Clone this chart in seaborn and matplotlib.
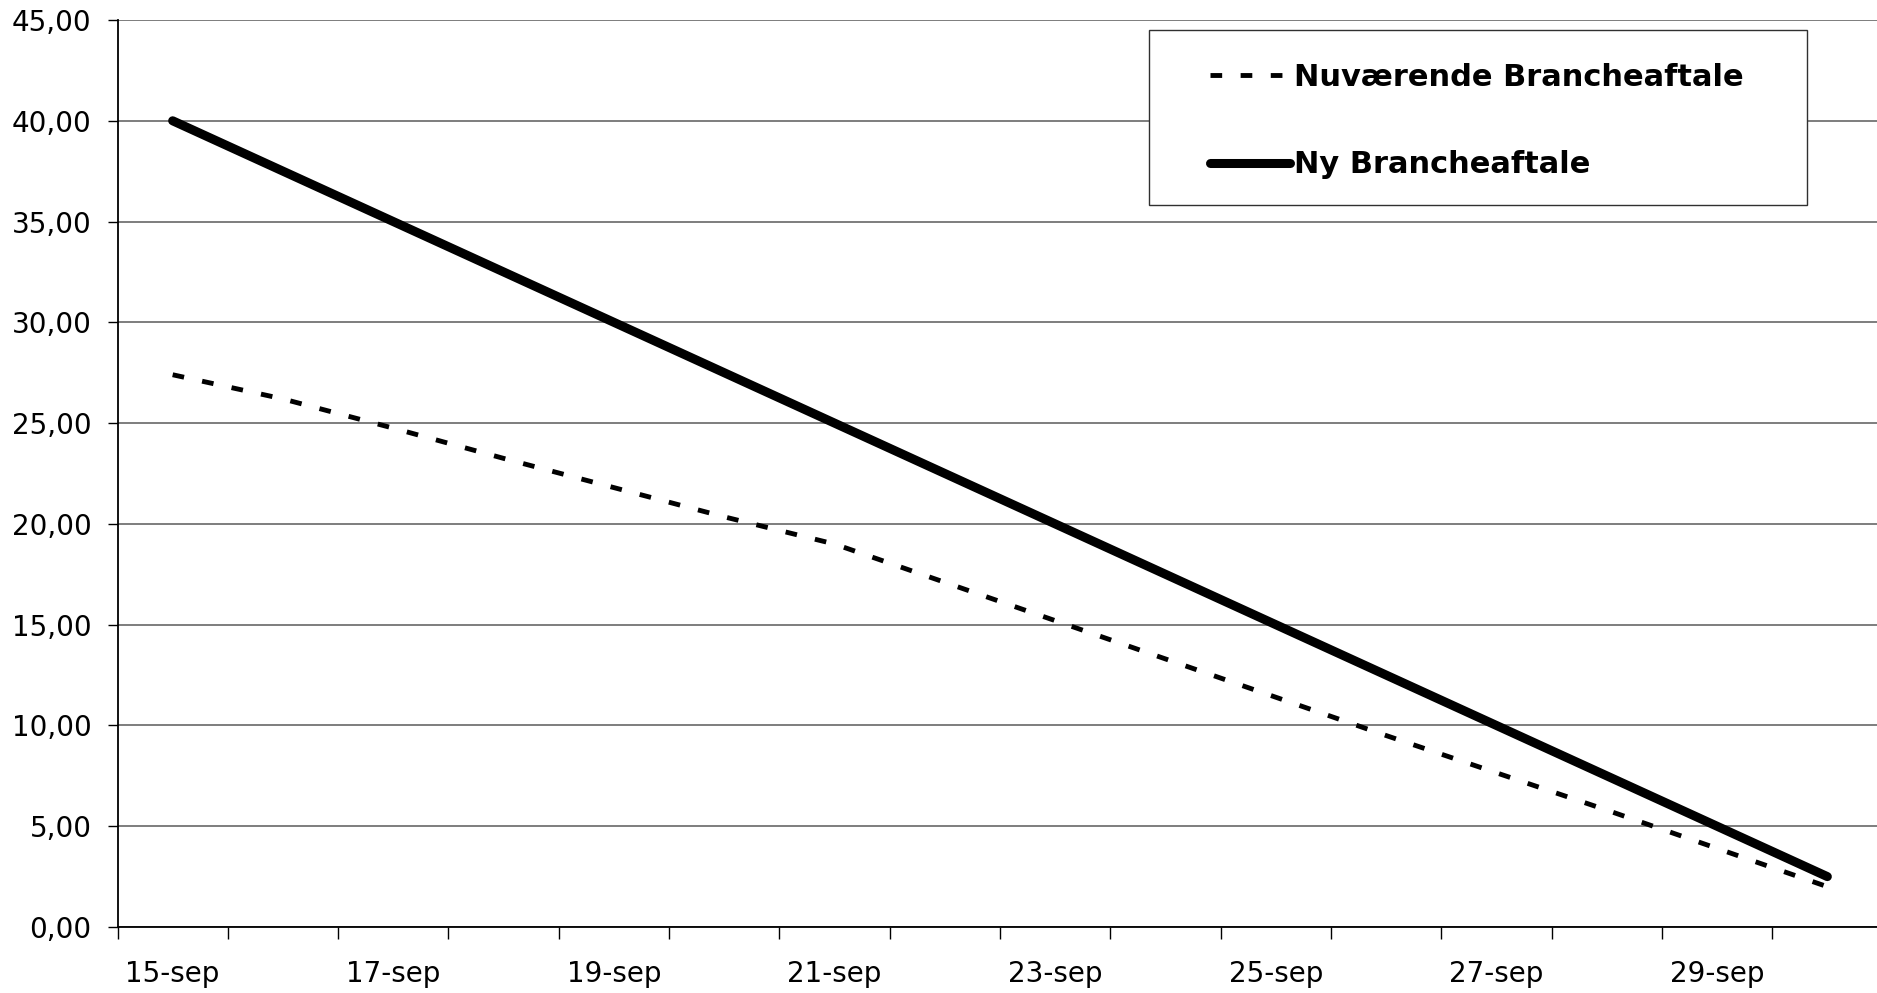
import numpy as np
import pandas as pd
import matplotlib
matplotlib.use("Agg")
import matplotlib.pyplot as plt
import matplotlib.ticker as mticker
from matplotlib.patches import Rectangle
import seaborn as sns

# data
datoer = ['15-sep', '16-sep', '17-sep', '18-sep', '19-sep', '20-sep', '21-sep', '22-sep',
          '23-sep', '24-sep', '25-sep', '26-sep', '27-sep', '28-sep', '29-sep', '30-sep']
nuvaerende = [27.4, 26.2, 24.75, 23.25, 21.8, 20.35, 19.0, 17.1,
              15.2, 13.3, 11.4, 9.5, 7.65, 5.8, 3.9, 2.0]
ny = [40.0, 37.5, 35.0, 32.5, 30.0, 27.5, 25.0, 22.5,
      20.0, 17.5, 15.0, 12.5, 10.0, 7.5, 5.0, 2.5]
serie_navne = ['Nuværende Brancheaftale', 'Ny Brancheaftale']

df = pd.DataFrame({'pos': np.arange(len(datoer)), 'dato': datoer,
                   'nuvaerende': nuvaerende, 'ny': ny})

sns.set_style("white")
plt.rcParams['font.family'] = ['DejaVu Sans']
plt.rcParams['text.color'] = 'black'

W, H = 1877, 993
fig = plt.figure(figsize=(W / 100, H / 100), dpi=100)
ax = fig.add_axes([117.5 / W, (H - 927) / H, 1 - 117.5 / W, (927 - 20) / H])

sns.lineplot(data=df, x='pos', y='nuvaerende', ax=ax, color='black', lw=3.5,
             linestyle=(0, (2.4, 3.8)), dash_capstyle='butt', label=serie_navne[0])
sns.lineplot(data=df, x='pos', y='ny', ax=ax, color='black', lw=6.5,
             solid_capstyle='round', label=serie_navne[1])

ax.set_ylim(0, 45)
ax.set_xlim(-0.5, len(datoer) - 0.55)
ax.yaxis.set_major_locator(mticker.MultipleLocator(5))
ax.yaxis.set_major_formatter(mticker.FuncFormatter(lambda v, p: f"{v:.2f}".replace('.', ',')))
ax.grid(axis='y', color='#5a5a5a', lw=1.1)
ax.grid(axis='x', visible=False)
ax.set_axisbelow(True)

# kategoriakse: etiketter hver anden dag, streger mellem kategorierne
ax.xaxis.set_major_locator(mticker.FixedLocator(np.arange(0, len(datoer) - 1, 2)))
ax.xaxis.set_major_formatter(mticker.FixedFormatter(datoer[0:len(datoer) - 1:2]))
ax.xaxis.set_minor_locator(mticker.FixedLocator(np.arange(-0.5, len(datoer) - 0.5)))
ax.tick_params(axis='x', which='major', bottom=True, length=0, pad=24, labelsize=20,
               colors='black')
ax.tick_params(axis='x', which='minor', bottom=True, direction='out', length=8.4,
               width=1, color='black')
ax.tick_params(axis='y', which='major', direction='out', length=7.2, width=1,
               pad=11.5, labelsize=20, colors='black', left=True)
ax.set_xlabel('')
ax.set_ylabel('')

for s in ['top', 'right']:
    ax.spines[s].set_visible(False)
for s in ['left', 'bottom']:
    ax.spines[s].set_color('black')
    ax.spines[s].set_linewidth(1.3)

# legende med ramme
ramme = Rectangle((1149 / W, 1 - 205 / H), 658 / W, 175 / H, transform=fig.transFigure,
                  facecolor='white', edgecolor='#303030', lw=1.0, zorder=4, clip_on=False)
ax.add_patch(ramme)
leg = ax.legend(loc='center left', bbox_to_anchor=(1195 / W, 1 - 121 / H),
                bbox_transform=fig.transFigure, frameon=False, borderpad=0,
                handlelength=2.6, handletextpad=0.15, labelspacing=1.93,
                labelcolor='black', prop={'size': 22, 'weight': 'bold'})
leg.set_zorder(5)

fig.savefig('out.png', dpi=100)
